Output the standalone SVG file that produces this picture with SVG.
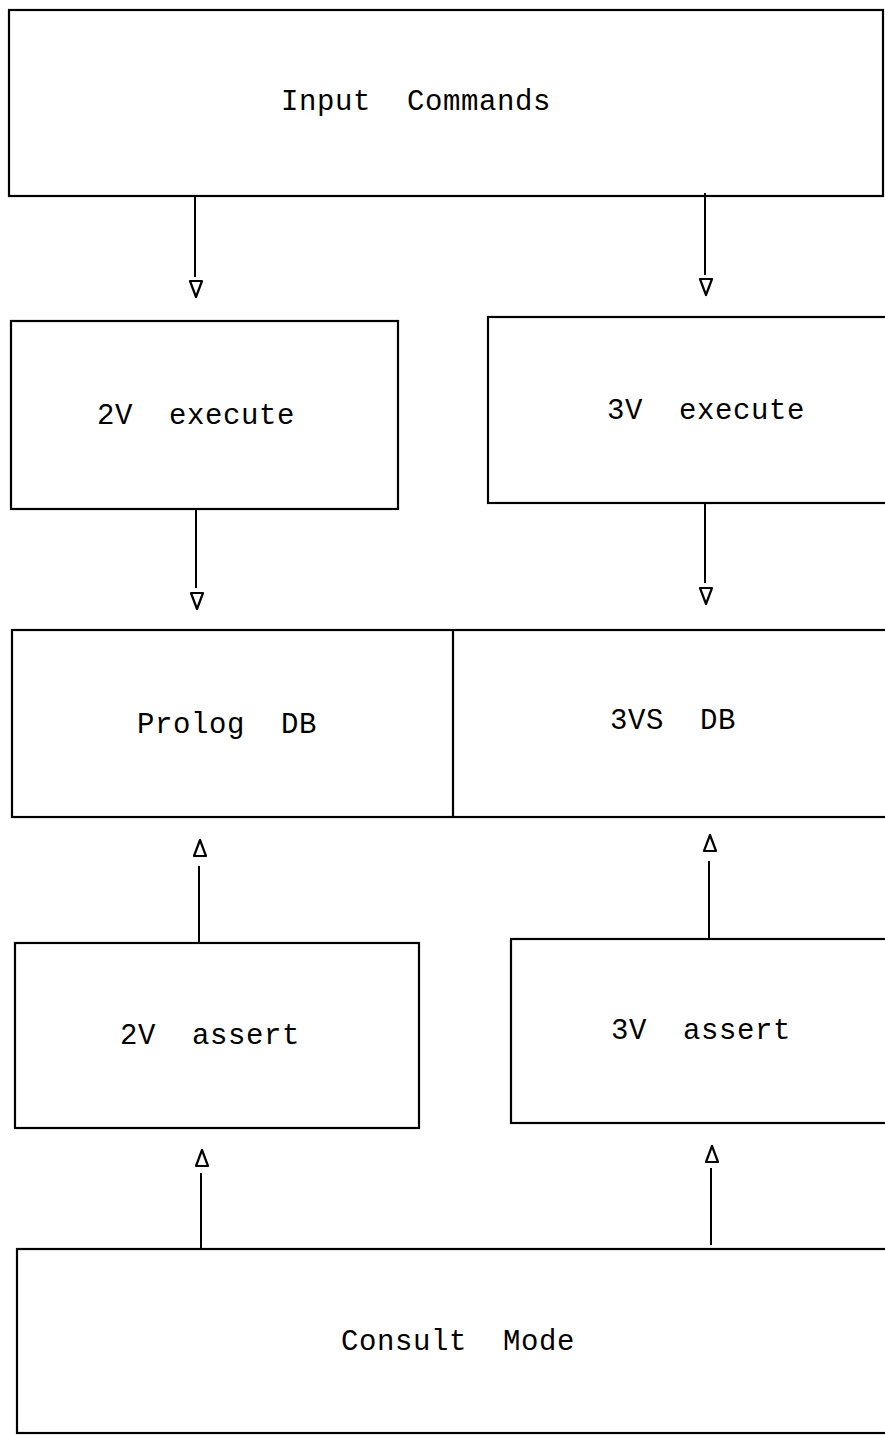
<svg xmlns="http://www.w3.org/2000/svg" width="885" height="1435" viewBox="0 0 885 1435">
<style>
.box{fill:none;stroke:#000;stroke-width:2.2}
.lbl{font-family:"Liberation Mono","DejaVu Sans Mono",monospace;font-size:29px;letter-spacing:0.6px;fill:#000;text-anchor:middle;white-space:pre}
.ln{stroke:#000;stroke-width:2;fill:none}
.hd{fill:#fff;stroke:#000;stroke-width:2.2;stroke-linejoin:round}
</style>
<defs>
<polygon id="down" class="hd" points="-6,0 6,0 0,16"/>
<polygon id="up" class="hd" points="-6,16 6,16 0,0"/>
</defs>
<rect width="885" height="1435" fill="#fff"/>
<g id="connectors">
<line class="ln" x1="195" y1="196" x2="195" y2="277"/>
<use href="#down" x="196" y="281"/>
<line class="ln" x1="705" y1="193" x2="705" y2="275"/>
<use href="#down" x="706" y="279"/>
<line class="ln" x1="196" y1="509" x2="196" y2="588"/>
<use href="#down" x="197" y="593"/>
<line class="ln" x1="705" y1="502" x2="705" y2="583"/>
<use href="#down" x="706" y="588"/>
<line class="ln" x1="199" y1="866" x2="199" y2="943"/>
<use href="#up" x="200" y="840"/>
<line class="ln" x1="709" y1="861" x2="709" y2="938"/>
<use href="#up" x="710" y="835"/>
<line class="ln" x1="201" y1="1173" x2="201" y2="1250"/>
<use href="#up" x="202" y="1150"/>
<line class="ln" x1="711" y1="1168" x2="711" y2="1245"/>
<use href="#up" x="712" y="1146"/>
</g>
<g id="input-commands">
<rect class="box" x="9" y="10" width="874" height="186"/>
<text class="lbl" x="416" y="110" xml:space="preserve">Input  Commands</text>
</g>
<g id="exec-2v">
<rect class="box" x="11" y="321" width="387" height="188"/>
<text class="lbl" x="196" y="424" xml:space="preserve">2V  execute</text>
</g>
<g id="exec-3v">
<rect class="box" x="488" y="317" width="400" height="186"/>
<text class="lbl" x="706" y="419" xml:space="preserve">3V  execute</text>
</g>
<g id="db">
<rect class="box" x="12" y="630" width="876" height="187"/>
<line class="box" x1="453" y1="630" x2="453" y2="817"/>
<text class="lbl" x="227" y="733" xml:space="preserve">Prolog  DB</text>
<text class="lbl" x="673" y="729" xml:space="preserve">3VS  DB</text>
</g>
<g id="assert-2v">
<rect class="box" x="15" y="943" width="404" height="185"/>
<text class="lbl" x="210" y="1044" xml:space="preserve">2V  assert</text>
</g>
<g id="assert-3v">
<rect class="box" x="511" y="939" width="377" height="184"/>
<text class="lbl" x="701" y="1039" xml:space="preserve">3V  assert</text>
</g>
<g id="consult-mode">
<rect class="box" x="17" y="1249" width="871" height="184"/>
<text class="lbl" x="458" y="1350" xml:space="preserve">Consult  Mode</text>
</g>
</svg>
